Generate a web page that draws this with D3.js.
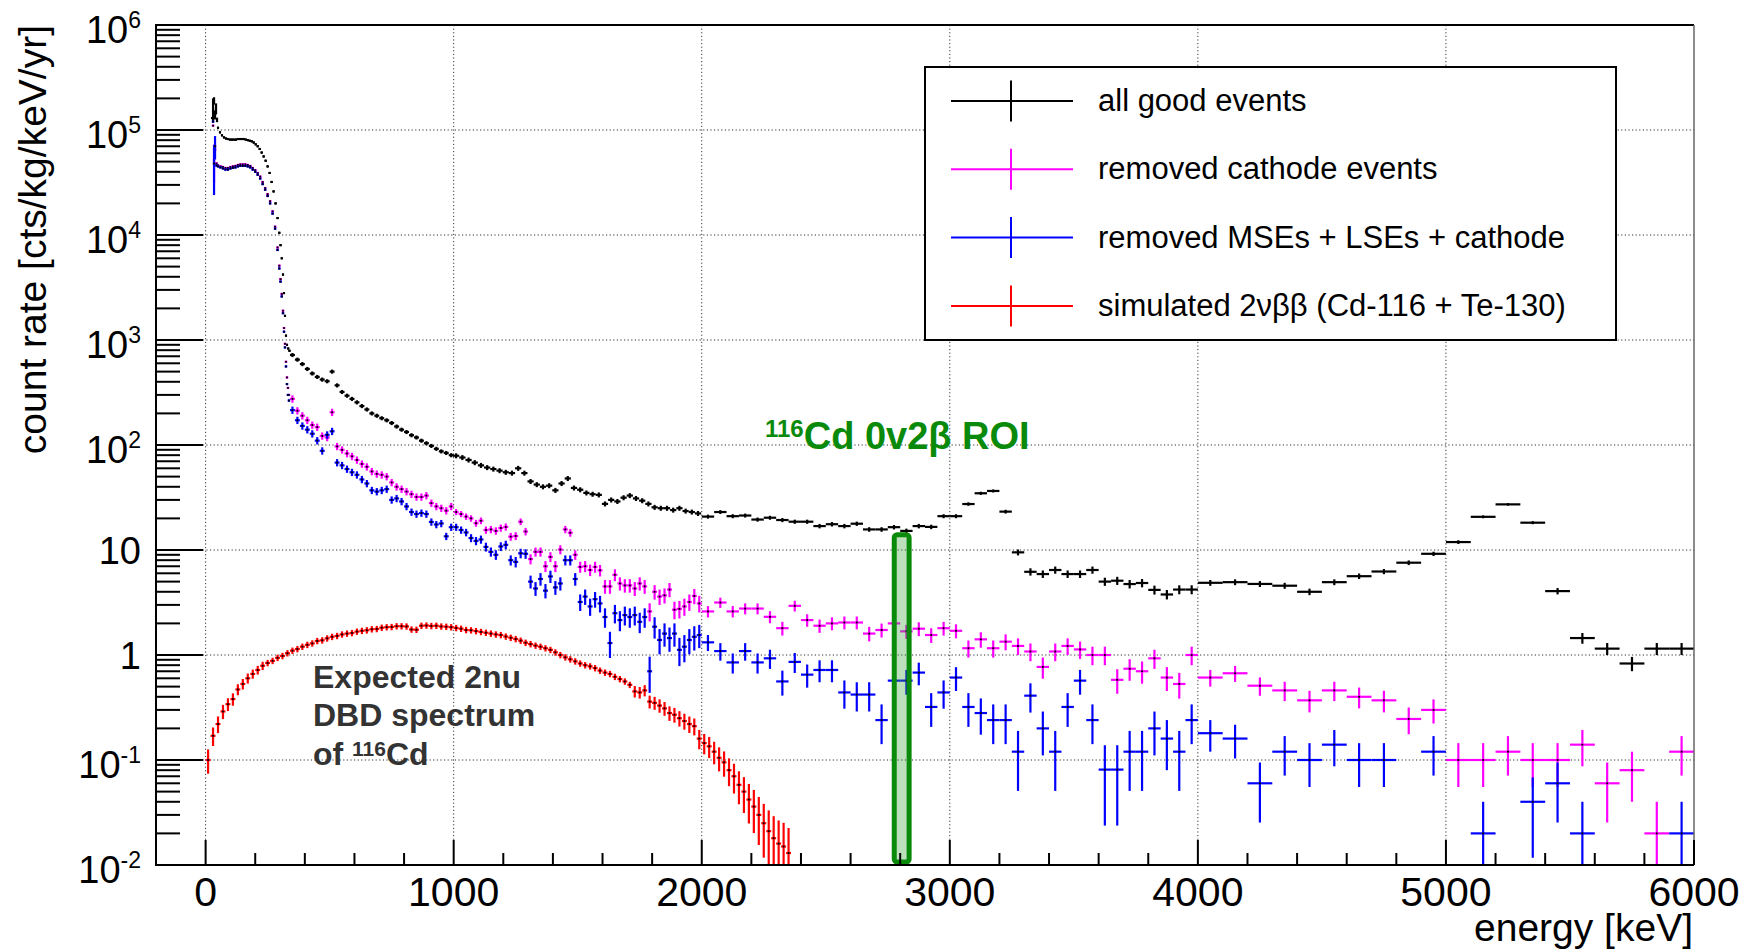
<!DOCTYPE html>
<html>
<head>
<meta charset="utf-8">
<script src="https://cdn.jsdelivr.net/npm/d3@7"></script>
<style>
  html, body { margin: 0; padding: 0; background: #fff; }
  svg { display: block; font-family: "Liberation Sans", Arial, Helvetica, sans-serif; }
</style>
</head>
<body>
<div id="chart"></div>
<script>
// ── Data ───────────────────────────────────────────────────────────────────────

const energyRange = [-200, 6000];          // keV
const rateRange = [1e-2, 1e6];             // cts/kg/keV/yr
const xTickValues = [0, 1000, 2000, 3000, 4000, 5000, 6000];
const yTickExponents = [-2, -1, 0, 1, 2, 3, 4, 5, 6];

const seriesNames = [
    "all good events",
    "removed cathode events",
    "removed MSEs + LSEs + cathode",
    "simulated 2νββ (Cd-116 + Te-130)"
];
const seriesColors = ["#000000", "#ff00ff", "#0000ff", "#ff0000"];

// binning: [from keV, to keV, bin width keV, typical relative error]
const goodBinning = [[0, 340, 8, 0.02], [340, 1000, 20, 0.045], [1000, 2000, 25, 0.055], [2000, 4000, 50, 0.05], [4000, 6100, 100, 0.06]];
const cutBinning = [[0, 340, 10, 0.02], [340, 1000, 20, 0.08], [1000, 2000, 20, 0.1], [2000, 4000, 50, 0.2], [4000, 6100, 100, 0.3]];
const simBinning = [[0, 2400, 20, 0.07]];

// rows: [energy keV, rate, relative error (optional)]
const goodEvents = [
    [26, 1.3e5], [30, 1.6e5, 0.25], [34, 1.9e5, 0.08], [38, 1.4e5, 0.1], [42, 1.6e5, 0.12], [46, 1.25e5, 0.05], [50, 1.05e5],
    [58, 9.5e4], [66, 8.9e4], [74, 8.5e4], [82, 8.3e4], [90, 8.2e4], [98, 8.1e4], [106, 8.1e4],
    [114, 8.1e4], [122, 8.1e4], [130, 8.2e4], [138, 8.2e4], [146, 8.2e4], [154, 8.2e4], [162, 8.1e4],
    [170, 8.0e4], [178, 7.9e4], [186, 7.8e4], [194, 7.6e4], [202, 7.3e4], [210, 7.0e4], [218, 6.6e4],
    [226, 6.1e4], [234, 5.6e4], [242, 5.1e4], [250, 4.5e4], [258, 3.9e4], [266, 3.2e4], [274, 2.6e4],
    [282, 2.0e4], [290, 1.45e4], [297, 1.05e4], [302, 8.0e3], [307, 6.0e3], [312, 4.2e3], [316, 2.8e3],
    [320, 1.7e3], [324, 1.1e3], [328, 900], [333, 830], [338, 790],
    [350, 720], [370, 650], [390, 590], [410, 530], [430, 480], [450, 445], [470, 420], [490, 405],
    [510, 500], [530, 370], [550, 320], [570, 295], [590, 275], [610, 255], [630, 235], [650, 218],
    [670, 200], [690, 190], [710, 180], [730, 172], [750, 162], [770, 150], [790, 140], [810, 133],
    [830, 124], [850, 118], [870, 110], [890, 104], [910, 98], [930, 92], [950, 87], [970, 84], [990, 80],
    [1010, 79], [1035, 76], [1060, 72], [1085, 68], [1110, 64], [1135, 61], [1160, 59], [1185, 57],
    [1210, 55], [1235, 54], [1260, 60], [1285, 54], [1310, 45], [1335, 42], [1360, 40], [1385, 41],
    [1410, 37], [1435, 43], [1460, 48], [1485, 39], [1510, 37.5], [1535, 35], [1560, 34], [1585, 33.5],
    [1610, 27.5], [1635, 30], [1660, 29], [1685, 31.5], [1710, 33], [1735, 31], [1760, 29.5], [1785, 27.5],
    [1810, 25.5], [1835, 25], [1860, 25], [1885, 24], [1910, 25], [1935, 23.5], [1960, 23], [1985, 22.3],
    [2025, 20.8, 0.044], [2075, 23, 0.042], [2125, 21, 0.044], [2175, 21.3, 0.043], [2225, 19.5, 0.045],
    [2275, 20.3, 0.044], [2325, 19.3, 0.046], [2375, 18.6, 0.046], [2425, 18.6, 0.046], [2475, 16.9, 0.049],
    [2525, 17.6, 0.048], [2575, 16.9, 0.049], [2625, 17.8, 0.047], [2675, 15.7, 0.05], [2725, 15.7, 0.05],
    [2775, 16.5, 0.049], [2825, 15.2, 0.051], [2875, 16.9, 0.049], [2925, 16.6, 0.049], [2975, 21, 0.044],
    [3025, 21, 0.044], [3075, 27.4, 0.038], [3125, 34.7, 0.034], [3175, 36.5, 0.033], [3225, 23.2, 0.042],
    [3275, 9.5, 0.065], [3325, 6.2, 0.08], [3375, 5.9, 0.082], [3425, 6.45, 0.079], [3475, 5.9, 0.082],
    [3525, 5.9, 0.082], [3575, 6.45, 0.079], [3625, 5.0, 0.089], [3675, 5.1, 0.089], [3725, 4.74, 0.092],
    [3775, 4.85, 0.091], [3825, 4.17, 0.098], [3875, 3.77, 0.103], [3925, 4.2, 0.098], [3975, 4.2, 0.098],
    [4050, 4.87, 0.064], [4150, 4.94, 0.064], [4250, 4.75, 0.065], [4350, 4.57, 0.066], [4450, 4.0, 0.071],
    [4550, 4.94, 0.064], [4650, 5.63, 0.06], [4750, 6.24, 0.057], [4850, 7.57, 0.051], [4950, 9.2, 0.047],
    [5050, 11.9, 0.041], [5150, 20.7, 0.031], [5250, 27.2, 0.027], [5350, 18.2, 0.033], [5450, 4.06, 0.07],
    [5550, 1.45, 0.117], [5650, 1.15, 0.132], [5750, 0.83, 0.155], [5850, 1.15, 0.132], [5950, 1.15, 0.132]
];

const cathodeRemoved = [
    [30, 1.1e5], [34, 5.2e4, 0.4], [38, 6.5e4], [44, 4.8e4], [50, 4.6e4], [60, 4.5e4], [70, 4.45e4],
    [80, 4.35e4], [90, 4.35e4], [100, 4.45e4], [110, 4.5e4], [120, 4.55e4], [130, 4.65e4], [140, 4.7e4],
    [150, 4.7e4], [160, 4.7e4], [170, 4.65e4], [180, 4.55e4], [190, 4.35e4], [200, 4.15e4], [210, 3.9e4],
    [220, 3.6e4], [230, 3.2e4], [240, 2.8e4], [250, 2.45e4], [260, 2.1e4], [270, 1.68e4], [280, 1.2e4],
    [290, 7.6e3], [297, 5.1e3], [302, 3.8e3], [307, 2.75e3], [312, 1.9e3], [316, 1.3e3], [320, 920],
    [324, 620], [328, 440], [332, 350], [336, 300],
    [350, 275], [370, 212], [390, 190], [410, 172], [430, 155], [450, 148], [470, 122], [490, 118],
    [510, 205], [530, 97], [550, 90], [570, 83], [590, 78], [610, 72], [630, 66], [650, 62], [670, 56],
    [690, 53], [710, 52], [730, 50], [750, 44], [770, 40], [790, 38], [810, 36], [830, 34], [850, 32],
    [870, 32], [890, 33], [910, 28], [930, 26], [950, 25], [970, 23.7], [990, 26],
    [1010, 23, 0.066], [1030, 22, 0.067], [1050, 20.8, 0.07], [1070, 20, 0.07], [1090, 18, 0.075],
    [1110, 19, 0.073], [1130, 15.5, 0.08], [1150, 15.7, 0.08], [1170, 15.2, 0.081], [1190, 16.2, 0.079],
    [1210, 16.6, 0.078], [1230, 13.4, 0.086], [1250, 13.6, 0.086], [1270, 18.6, 0.073], [1290, 15, 0.082],
    [1310, 8.2, 0.11], [1330, 9.6, 0.1], [1350, 9.6, 0.1], [1370, 7.0, 0.12], [1390, 8.6, 0.108],
    [1410, 7.0, 0.12], [1430, 10.1, 0.1], [1450, 15.7, 0.08], [1470, 14.6, 0.083], [1490, 9.0, 0.105],
    [1510, 6.9, 0.12], [1530, 7.0, 0.12], [1550, 6.45, 0.125], [1570, 6.9, 0.12], [1590, 6.4, 0.125],
    [1610, 4.5, 0.15], [1630, 4.5, 0.15], [1650, 5.8, 0.13], [1670, 4.8, 0.144], [1690, 4.6, 0.147],
    [1710, 4.6, 0.147], [1730, 4.3, 0.152], [1750, 4.8, 0.144], [1770, 4.5, 0.15], [1790, 2.6, 0.196],
    [1810, 4.0, 0.158], [1830, 3.6, 0.167], [1850, 3.7, 0.164], [1870, 4.2, 0.154], [1890, 2.7, 0.19],
    [1910, 2.75, 0.19], [1930, 2.9, 0.186], [1950, 3.2, 0.177], [1970, 3.65, 0.165], [1990, 3.1, 0.18],
    [2025, 2.6, 0.124], [2075, 3.16, 0.112], [2125, 2.6, 0.124], [2175, 2.77, 0.12], [2225, 2.77, 0.12],
    [2275, 2.31, 0.132], [2325, 1.8, 0.149], [2375, 2.94, 0.117], [2425, 2.15, 0.136], [2475, 1.9, 0.145],
    [2525, 2.0, 0.141], [2575, 2.04, 0.14], [2625, 2.04, 0.14], [2675, 1.6, 0.158], [2725, 1.73, 0.152],
    [2775, 2.0, 0.141], [2825, 1.68, 0.154], [2875, 1.78, 0.15], [2925, 1.55, 0.16], [2975, 1.8, 0.149],
    [3025, 1.7, 0.153], [3075, 1.16, 0.186], [3125, 1.41, 0.168], [3175, 1.16, 0.186], [3225, 1.34, 0.173],
    [3275, 1.22, 0.181], [3325, 1.08, 0.192], [3375, 0.77, 0.228], [3425, 1.08, 0.192], [3475, 1.22, 0.181],
    [3525, 1.13, 0.188], [3575, 1.0, 0.2], [3625, 1.0, 0.2], [3675, 0.58, 0.263], [3725, 0.74, 0.232],
    [3775, 0.70, 0.239], [3825, 0.93, 0.207], [3875, 0.61, 0.256], [3925, 0.53, 0.275], [3975, 1.0, 0.2],
    [4050, 0.61, 0.181], [4150, 0.67, 0.173], [4250, 0.51, 0.198], [4350, 0.46, 0.209], [4450, 0.37, 0.232],
    [4550, 0.46, 0.209], [4650, 0.40, 0.224], [4750, 0.37, 0.232], [4850, 0.246, 0.285], [4950, 0.30, 0.258],
    [5050, 0.1, 0.447], [5150, 0.1, 0.447], [5250, 0.12, 0.408], [5350, 0.1, 0.447], [5450, 0.1, 0.447],
    [5550, 0.14, 0.378], [5650, 0.06, 0.577], [5750, 0.08, 0.5], [5850, 0.02, 1], [5950, 0.12, 0.408]
];

const allCutsRemoved = [
    [30, 1.2e5], [34, 4.8e4, 0.5], [38, 7.0e4, 0.25], [44, 4.6e4], [50, 4.5e4], [60, 4.4e4], [70, 4.3e4],
    [80, 4.2e4], [90, 4.2e4], [100, 4.3e4], [110, 4.35e4], [120, 4.4e4], [130, 4.5e4], [140, 4.55e4],
    [150, 4.55e4], [160, 4.55e4], [170, 4.5e4], [180, 4.4e4], [190, 4.2e4], [200, 4.0e4], [210, 3.75e4],
    [220, 3.45e4], [230, 3.05e4], [240, 2.7e4], [250, 2.35e4], [260, 2.0e4], [270, 1.6e4], [280, 1.15e4],
    [290, 7.2e3], [297, 4.8e3], [302, 3.6e3], [307, 2.6e3], [312, 1.8e3], [316, 1.2e3], [320, 850],
    [324, 560], [328, 380], [332, 300], [336, 265],
    [350, 215], [370, 172], [390, 152], [410, 140], [430, 128], [450, 110], [470, 88], [490, 125],
    [510, 135], [530, 68], [550, 64], [570, 59], [590, 55], [610, 52], [630, 47], [650, 43], [670, 37],
    [690, 36], [710, 37], [730, 38], [750, 30], [770, 31], [790, 29], [810, 26], [830, 23], [850, 22],
    [870, 22.5], [890, 22], [910, 18.5], [930, 17.5], [950, 17.9], [970, 13.5], [990, 16.5],
    [1010, 16.5, 0.078], [1030, 15.5, 0.08], [1050, 14.7, 0.082], [1070, 13.0, 0.088], [1090, 12.2, 0.09],
    [1110, 12.6, 0.089], [1130, 10.7, 0.097], [1150, 9.6, 0.1], [1170, 9.0, 0.105], [1190, 10.8, 0.096],
    [1210, 11.2, 0.094], [1230, 8.0, 0.11], [1250, 7.7, 0.114], [1270, 9.3, 0.104], [1290, 9.2, 0.104],
    [1310, 5.0, 0.14], [1330, 4.3, 0.15], [1350, 5.3, 0.137], [1370, 4.1, 0.156], [1390, 5.6, 0.134],
    [1410, 4.4, 0.15], [1430, 4.8, 0.144], [1450, 8.0, 0.11], [1470, 8.0, 0.11], [1490, 5.3, 0.137],
    [1510, 3.2, 0.18], [1530, 3.6, 0.167], [1550, 2.9, 0.186], [1570, 3.4, 0.17], [1590, 3.1, 0.18],
    [1610, 2.3, 0.21], [1630, 1.3, 0.28], [1650, 2.5, 0.2], [1670, 2.15, 0.216], [1690, 2.4, 0.204],
    [1710, 2.3, 0.21], [1730, 2.4, 0.204], [1750, 2.07, 0.22], [1770, 2.3, 0.21], [1790, 0.7, 0.378],
    [1810, 1.86, 0.23], [1830, 1.39, 0.27], [1850, 1.6, 0.25], [1870, 1.45, 0.26], [1890, 1.6, 0.25],
    [1910, 1.12, 0.3], [1930, 1.2, 0.29], [1950, 1.39, 0.27], [1970, 1.49, 0.26], [1990, 1.55, 0.25],
    [2025, 1.32, 0.174], [2075, 1.09, 0.19], [2125, 0.85, 0.217], [2175, 1.09, 0.19], [2225, 0.85, 0.217],
    [2275, 0.93, 0.207], [2325, 0.56, 0.267], [2375, 0.86, 0.216], [2425, 0.65, 0.248], [2475, 0.72, 0.236],
    [2525, 0.72, 0.236], [2575, 0.44, 0.3], [2625, 0.42, 0.31], [2675, 0.42, 0.31], [2725, 0.24, 0.41],
    [2775, 0.57, 0.265], [2825, 0.57, 0.265], [2875, 0.68, 0.243], [2925, 0.32, 0.354], [2975, 0.44, 0.3],
    [3025, 0.61, 0.256], [3075, 0.32, 0.354], [3125, 0.28, 0.378], [3175, 0.24, 0.41], [3225, 0.24, 0.41],
    [3275, 0.12, 0.577], [3325, 0.41, 0.31], [3375, 0.2, 0.447], [3425, 0.12, 0.577], [3475, 0.32, 0.354],
    [3525, 0.57, 0.265], [3575, 0.24, 0.41], [3625, 0.081, 0.707], [3675, 0.081, 0.707], [3725, 0.12, 0.577],
    [3775, 0.12, 0.577], [3825, 0.2, 0.447], [3875, 0.16, 0.5], [3925, 0.12, 0.577], [3975, 0.24, 0.41],
    [4050, 0.18, 0.333], [4150, 0.16, 0.354], [4250, 0.06, 0.577], [4350, 0.12, 0.408], [4450, 0.10, 0.447],
    [4550, 0.14, 0.378], [4650, 0.10, 0.447], [4750, 0.10, 0.447], [4950, 0.12, 0.408],
    [5150, 0.02, 1], [5350, 0.04, 0.707], [5450, 0.06, 0.577], [5550, 0.02, 1], [5950, 0.02, 1]
];

const simulated2nu = [
    [10, 0.10, 0.26], [30, 0.17, 0.2], [50, 0.22, 0.18], [70, 0.29, 0.155], [90, 0.34, 0.14],
    [110, 0.38, 0.135], [130, 0.47, 0.12], [150, 0.53, 0.115], [170, 0.60, 0.11], [190, 0.66, 0.1],
    [210, 0.72, 0.095], [230, 0.79, 0.09], [250, 0.84], [270, 0.88], [290, 0.94], [310, 0.98],
    [330, 1.04], [350, 1.10], [370, 1.14], [390, 1.20], [410, 1.25], [430, 1.29], [450, 1.36],
    [470, 1.38], [490, 1.44], [510, 1.49], [530, 1.52], [550, 1.57], [570, 1.60], [590, 1.62],
    [610, 1.67], [630, 1.70], [650, 1.72], [670, 1.76], [690, 1.77], [710, 1.82], [730, 1.84],
    [750, 1.85], [770, 1.88], [790, 1.88], [810, 1.87], [830, 1.75], [850, 1.74], [870, 1.90],
    [890, 1.91], [910, 1.89], [930, 1.90], [950, 1.87], [970, 1.86], [990, 1.84], [1010, 1.81],
    [1030, 1.78], [1050, 1.73], [1070, 1.72], [1090, 1.69], [1110, 1.66], [1130, 1.63], [1150, 1.60],
    [1170, 1.57], [1190, 1.55], [1210, 1.50], [1230, 1.46], [1250, 1.42], [1270, 1.37], [1290, 1.31],
    [1310, 1.27], [1330, 1.23], [1350, 1.20], [1370, 1.16], [1390, 1.12], [1410, 1.06], [1430, 1.00],
    [1450, 0.95], [1470, 0.91], [1490, 0.87], [1510, 0.83], [1530, 0.80], [1550, 0.78], [1570, 0.75],
    [1590, 0.71], [1610, 0.68], [1630, 0.66], [1650, 0.62], [1670, 0.59], [1690, 0.56], [1710, 0.52],
    [1730, 0.45, 0.125], [1750, 0.44, 0.126], [1770, 0.46, 0.123], [1790, 0.36, 0.14], [1810, 0.35, 0.141],
    [1830, 0.33, 0.146], [1850, 0.31, 0.15], [1870, 0.28, 0.158], [1890, 0.27, 0.161], [1910, 0.25, 0.167],
    [1930, 0.235, 0.173], [1950, 0.22, 0.178], [1970, 0.21, 0.183], [1990, 0.16, 0.209], [2010, 0.145, 0.22],
    [2030, 0.135, 0.228], [2050, 0.12, 0.242], [2070, 0.105, 0.258], [2090, 0.095, 0.27], [2110, 0.08, 0.296],
    [2130, 0.07, 0.316], [2150, 0.058, 0.347], [2170, 0.05, 0.374], [2190, 0.042, 0.408], [2210, 0.036, 0.441],
    [2230, 0.03, 0.483], [2250, 0.025, 0.53], [2270, 0.021, 0.577], [2290, 0.018, 0.62], [2310, 0.016, 0.66],
    [2330, 0.015, 0.68], [2350, 0.013, 0.73]
];

const roiEnergy = [2776, 2836];
const roiTopRate = 14;

// ── Layout ─────────────────────────────────────────────────────────────────────

const W = 1751, H = 952;
const M = { left: 156, right: 1694, top: 25, bottom: 865 };

const x = d3.scaleLinear().domain(energyRange).range([M.left, M.right]);
const y = d3.scaleLog().domain(rateRange).range([M.bottom, M.top]);

const svg = d3.select("#chart").append("svg")
    .attr("width", W).attr("height", H)
    .attr("viewBox", `0 0 ${W} ${H}`);

svg.append("rect").attr("width", W).attr("height", H).attr("fill", "#fff");

svg.append("defs").append("clipPath").attr("id", "plot-clip")
    .append("rect")
    .attr("x", M.left).attr("y", M.top)
    .attr("width", M.right - M.left).attr("height", M.bottom - M.top);

// ── Grid ───────────────────────────────────────────────────────────────────────

const grid = svg.append("g")
    .attr("stroke", "#333").attr("stroke-width", 1).attr("stroke-dasharray", "1.2,2.4");

grid.selectAll("line.gx")
    .data(xTickValues.filter(v => v < energyRange[1]))
    .join("line").attr("class", "gx")
    .attr("x1", d => x(d)).attr("x2", d => x(d))
    .attr("y1", M.top).attr("y2", M.bottom);

grid.selectAll("line.gy")
    .data(yTickExponents.slice(1, -1))
    .join("line").attr("class", "gy")
    .attr("x1", M.left).attr("x2", M.right)
    .attr("y1", d => y(Math.pow(10, d))).attr("y2", d => y(Math.pow(10, d)));

// ── Data series ────────────────────────────────────────────────────────────────

const plot = svg.append("g").attr("clip-path", "url(#plot-clip)");

function drawSeries(rows, binning, color) {
    const pts = rows.map(([e, v, rel]) => {
        const bin = binning.find(b => e >= b[0] && e < b[1]);
        const r = rel === undefined ? bin[3] : rel;
        return { e, v, w: bin[2], lo: Math.max(v * (1 - r), rateRange[0]), hi: v * (1 + r) };
    });

    const g = plot.append("g").attr("stroke", color).attr("stroke-width", 2.2);

    g.selectAll("line.h").data(pts).join("line").attr("class", "h")
        .attr("x1", d => x(d.e - d.w / 2)).attr("x2", d => x(d.e + d.w / 2))
        .attr("y1", d => y(d.v)).attr("y2", d => y(d.v));

    g.selectAll("line.v").data(pts).join("line").attr("class", "v")
        .attr("x1", d => x(d.e)).attr("x2", d => x(d.e))
        .attr("y1", d => y(d.lo)).attr("y2", d => y(d.hi));

    plot.append("g").attr("fill", "#000")
        .selectAll("rect").data(pts).join("rect")
        .attr("x", d => x(d.e) - 0.9).attr("y", d => y(d.v) - 0.9)
        .attr("width", 1.8).attr("height", 1.8);
}

drawSeries(goodEvents, goodBinning, seriesColors[0]);
drawSeries(cathodeRemoved, cutBinning, seriesColors[1]);
drawSeries(allCutsRemoved, cutBinning, seriesColors[2]);
drawSeries(simulated2nu, simBinning, seriesColors[3]);

// ── ROI box ────────────────────────────────────────────────────────────────────

svg.append("rect")
    .attr("x", x(roiEnergy[0])).attr("y", y(roiTopRate))
    .attr("width", x(roiEnergy[1]) - x(roiEnergy[0]))
    .attr("height", y(rateRange[0]) - y(roiTopRate) - 3)
    .attr("rx", 3).attr("ry", 3)
    .attr("fill", "#2e9e2e").attr("fill-opacity", 0.32)
    .attr("stroke", "#0a8a0a").attr("stroke-width", 5);

// ── Frame & axes ───────────────────────────────────────────────────────────────

svg.append("line").attr("x1", M.left).attr("x2", M.right).attr("y1", M.top).attr("y2", M.top)
    .attr("stroke", "#000").attr("stroke-width", 2);
svg.append("line").attr("x1", M.right).attr("x2", M.right).attr("y1", M.top).attr("y2", M.bottom)
    .attr("stroke", "#666").attr("stroke-width", 1.5);

const axes = svg.append("g").attr("stroke", "#000").attr("stroke-width", 2);
axes.append("line").attr("x1", M.left).attr("x2", M.left).attr("y1", M.top - 1).attr("y2", M.bottom + 1);
axes.append("line").attr("x1", M.left - 1).attr("x2", M.right).attr("y1", M.bottom).attr("y2", M.bottom);

// x ticks: major every 1000 keV, minor every 200 keV
const xMinor = d3.range(energyRange[0] + 200, energyRange[1] + 1, 200).filter(v => !xTickValues.includes(v));
axes.selectAll("line.xmin").data(xMinor).join("line").attr("class", "xmin")
    .attr("x1", d => x(d)).attr("x2", d => x(d))
    .attr("y1", M.bottom).attr("y2", M.bottom - 12);
axes.selectAll("line.xmaj").data(xTickValues).join("line").attr("class", "xmaj")
    .attr("x1", d => x(d)).attr("x2", d => x(d))
    .attr("y1", M.bottom).attr("y2", M.bottom - 25);

// y ticks: major at decades, minor at 2..9
const yMinor = [];
yTickExponents.slice(0, -1).forEach(e => d3.range(2, 10).forEach(k => yMinor.push(k * Math.pow(10, e))));
axes.selectAll("line.ymin").data(yMinor).join("line").attr("class", "ymin")
    .attr("x1", M.left).attr("x2", M.left + 24)
    .attr("y1", d => y(d)).attr("y2", d => y(d));
axes.selectAll("line.ymaj").data(yTickExponents).join("line").attr("class", "ymaj")
    .attr("x1", M.left).attr("x2", M.left + 47)
    .attr("y1", d => y(Math.pow(10, d))).attr("y2", d => y(Math.pow(10, d)));

// tick labels
svg.append("g").selectAll("text").data(xTickValues).join("text")
    .attr("x", d => x(d)).attr("y", 906)
    .attr("text-anchor", "middle").attr("font-size", 41).attr("fill", "#000")
    .text(d => d);

yTickExponents.forEach(e => {
    const ty = y(Math.pow(10, e));
    const t = svg.append("text").attr("x", 141).attr("text-anchor", "end")
        .attr("font-size", 38).attr("fill", "#000");
    if (e === 0 || e === 1) {
        t.attr("y", ty + 13.5).text(e === 0 ? "1" : "10");
    } else {
        t.attr("y", ty + 18);
        t.append("tspan").text("10");
        t.append("tspan").attr("font-size", 23).attr("dy", -15).text(e);
    }
});

// axis titles
svg.append("text")
    .attr("transform", `translate(46, ${M.top}) rotate(-90)`)
    .attr("text-anchor", "end").attr("font-size", 39).attr("fill", "#000")
    .text("count rate [cts/kg/keV/yr]");

svg.append("text")
    .attr("x", M.right - 1).attr("y", 941)
    .attr("text-anchor", "end").attr("font-size", 39).attr("fill", "#000")
    .text("energy [keV]");

// ── Legend ─────────────────────────────────────────────────────────────────────

const legend = svg.append("g");
legend.append("rect")
    .attr("x", 925).attr("y", 67).attr("width", 691).attr("height", 273)
    .attr("fill", "#fff").attr("stroke", "#000").attr("stroke-width", 2);

seriesNames.forEach((name, i) => {
    const cy = 101 + i * 68.3;
    const g = legend.append("g").attr("stroke", seriesColors[i]).attr("stroke-width", 2);
    g.append("line").attr("x1", 951).attr("x2", 1073).attr("y1", cy).attr("y2", cy);
    g.append("line").attr("x1", 1011).attr("x2", 1011).attr("y1", cy - 20.5).attr("y2", cy + 20.5);
    legend.append("text").attr("x", 1098).attr("y", cy + 10)
        .attr("font-size", 31).attr("fill", "#000").text(name);
});

// ── Annotations ────────────────────────────────────────────────────────────────

const roiLabel = svg.append("text").attr("x", 765).attr("y", 449)
    .attr("fill", "#0a8a0a").attr("font-weight", "bold");
roiLabel.append("tspan").attr("font-size", 24).attr("dy", -12).text("116");
roiLabel.append("tspan").attr("font-size", 38).attr("dy", 12).text("Cd 0v2β ROI");

const note = svg.append("g").attr("fill", "#333").attr("font-weight", "bold").attr("font-size", 32);
note.append("text").attr("x", 313).attr("y", 688).text("Expected 2nu");
note.append("text").attr("x", 313).attr("y", 726).text("DBD spectrum");
const noteLast = note.append("text").attr("x", 313).attr("y", 765);
noteLast.append("tspan").text("of ");
noteLast.append("tspan").attr("font-size", 21).attr("dy", -9).text("116");
noteLast.append("tspan").attr("dy", 9).text("Cd");
</script>
</body>
</html>
